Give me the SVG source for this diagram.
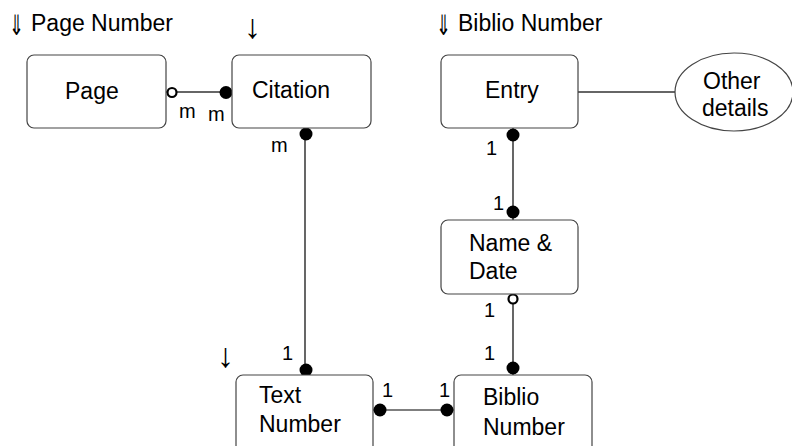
<svg xmlns="http://www.w3.org/2000/svg" width="792" height="446" viewBox="0 0 792 446">
<style>
.box{fill:#fff;stroke:#444;stroke-width:1.2}
.t{font-family:"Liberation Sans",Arial,sans-serif;font-size:23px;fill:#000}
.lb{font-family:"Liberation Sans",Arial,sans-serif;font-size:20px;fill:#000}
.ar{font-family:"Liberation Sans","DejaVu Sans",sans-serif;font-size:34px;fill:#000}
.ar2{font-family:"DejaVu Sans",sans-serif;font-weight:200;font-size:22px;fill:#000}
.ln{stroke:#000;stroke-width:1.2;fill:none}
.gl{stroke:#666;stroke-width:2;fill:none}
.dot{fill:#000}
.open{fill:#fff;stroke:#000;stroke-width:2.2}
</style>
<rect width="792" height="446" fill="#fff"/>
<g id="headers">
<text class="t" x="31" y="31">Page Number</text>
<text class="ar2" transform="translate(9,35) scale(0.8,1.25)">⇓</text>
<text class="t" x="458" y="31">Biblio Number</text>
<text class="ar2" transform="translate(436,35) scale(0.8,1.25)">⇓</text>
<text class="ar" x="244" y="38">↓</text>
<text class="ar" x="217" y="367">↓</text>
</g>
<g id="connectors">
<line class="gl" x1="166" y1="92" x2="232" y2="92"/>
<line class="gl" x1="578" y1="92" x2="675" y2="92"/>
<line class="ln" x1="305" y1="128" x2="305" y2="375"/>
<line class="ln" x1="513" y1="128" x2="513" y2="220"/>
<line class="ln" x1="513" y1="294" x2="513" y2="375"/>
<line class="ln" x1="373" y1="410" x2="454" y2="410"/>
<circle class="open" cx="172" cy="92.5" r="4.5"/>
<circle class="dot" cx="226" cy="92.5" r="6.5"/>
<circle class="dot" cx="306" cy="134" r="6.5"/>
<circle class="dot" cx="306" cy="370" r="6.5"/>
<circle class="dot" cx="513" cy="135" r="6.5"/>
<circle class="dot" cx="513" cy="212" r="6.5"/>
<circle class="open" cx="513" cy="299" r="4.5"/>
<circle class="dot" cx="513" cy="368" r="6.5"/>
<circle class="dot" cx="380" cy="410" r="6.5"/>
<circle class="dot" cx="447" cy="410" r="6.5"/>
<text class="lb" x="179" y="118">m</text>
<text class="lb" x="208" y="121">m</text>
<text class="lb" x="271" y="152">m</text>
<text class="lb" x="282" y="360">1</text>
<text class="lb" x="486" y="155">1</text>
<text class="lb" x="493" y="210">1</text>
<text class="lb" x="484" y="317">1</text>
<text class="lb" x="484" y="360">1</text>
<text class="lb" x="382" y="397">1</text>
<text class="lb" x="439" y="397">1</text>
</g>
<g id="page">
<rect class="box" x="27" y="55" width="139" height="73" rx="7"/>
<text class="t" x="65" y="99">Page</text>
</g>
<g id="citation">
<rect class="box" x="232" y="55" width="139" height="73" rx="7"/>
<text class="t" x="252" y="98">Citation</text>
</g>
<g id="entry">
<rect class="box" x="441" y="55" width="137" height="73" rx="7"/>
<text class="t" x="485" y="98">Entry</text>
</g>
<g id="other-details">
<ellipse class="box" cx="734" cy="92" rx="59" ry="39"/>
<text class="t" x="703" y="89">Other</text>
<text class="t" x="702" y="116">details</text>
</g>
<g id="name-date">
<rect class="box" x="441" y="220" width="137" height="74" rx="7"/>
<text class="t" x="469" y="251">Name &amp;</text>
<text class="t" x="469" y="279">Date</text>
</g>
<g id="text-number">
<rect class="box" x="236" y="375" width="137" height="85" rx="7"/>
<text class="t" x="259" y="403">Text</text>
<text class="t" x="259" y="432">Number</text>
</g>
<g id="biblio-number">
<rect class="box" x="454" y="375" width="138" height="85" rx="7"/>
<text class="t" x="483" y="405">Biblio</text>
<text class="t" x="483" y="435">Number</text>
</g>
</svg>
